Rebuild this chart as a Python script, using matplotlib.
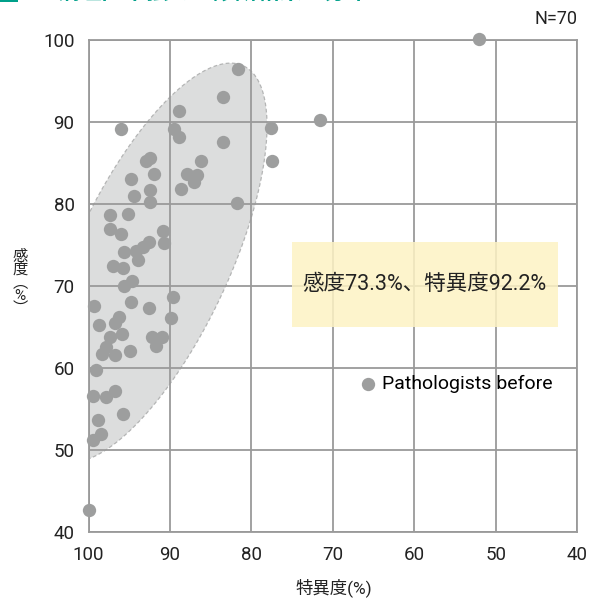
import numpy as np
import matplotlib.pyplot as plt
from matplotlib.patches import Polygon, Rectangle

plt.rcParams['font.family'] = ['Roboto', 'Noto Sans CJK JP', 'DejaVu Sans']

# 特異度 / 感度 (%) per pathologist
specificity = [81.6, 83.5, 88.9, 96.0, 89.5, 88.9, 83.5, 77.6, 77.5, 86.2,
               87.9, 86.7, 87.1, 88.6, 92.5, 92.9, 92.0, 94.8, 92.5, 94.4,
               92.5, 81.7, 97.4, 95.2, 97.4, 96.0, 90.9, 90.7, 92.6, 95.7,
               94.2, 93.3, 93.9, 97.0, 95.8, 94.7, 95.6, 89.6, 99.3, 94.8,
               92.6, 89.9, 96.2, 96.8, 98.7, 95.9, 97.4, 92.2, 91.0, 91.7,
               97.8, 98.3, 96.7, 94.9, 99.1, 96.7, 99.5, 97.9, 95.8, 98.8,
               98.5, 99.4, 100.0, 71.6, 52.1]
sensitivity = [96.5, 93.0, 91.3, 89.1, 89.1, 88.2, 87.6, 89.3, 85.2, 85.3,
               83.7, 83.5, 82.7, 81.8, 85.6, 85.2, 83.7, 83.0, 81.7, 81.0,
               80.2, 80.1, 78.7, 78.8, 77.0, 76.4, 76.7, 75.3, 75.4, 74.2,
               74.3, 74.8, 73.2, 72.4, 72.2, 70.6, 70.0, 68.7, 67.6, 68.1,
               67.3, 66.1, 66.2, 65.5, 65.2, 64.1, 63.8, 63.8, 63.8, 62.7,
               62.6, 61.7, 61.6, 62.1, 59.8, 57.2, 56.6, 56.5, 54.4, 53.6,
               51.9, 51.2, 42.7, 90.2, 100.1]

x_ticks = [100, 90, 80, 70, 60, 50, 40]
y_ticks = [40, 50, 60, 70, 80, 90, 100]

# shaded ellipse around the main cluster (centre, half-width, half-height, shear)
ell_cx, ell_cy = 92.31, 72.84
ell_w, ell_h = 10.36, 24.34
ell_shear = -0.401

fig = plt.figure(figsize=(5.9, 6.01), dpi=100)
ax = fig.add_axes([0.150, 0.1148, 0.828, 0.8186])

t = np.linspace(0, 2 * np.pi, 400)
ey = ell_cy + ell_h * np.sin(t)
ex = ell_cx + ell_shear * (ey - ell_cy) + ell_w * np.cos(t)
ax.add_patch(Polygon(np.column_stack([ex, ey]), closed=True, facecolor='#dcdddd',
                     edgecolor='#b4b5b5', linestyle=(0, (3, 2)), linewidth=0.9, zorder=0.3))

ax.scatter(specificity, sensitivity, s=92, color='#9d9e9e', linewidths=0,
           zorder=3, clip_on=False, label='Pathologists before')

ax.set_xlim(100, 40)
ax.set_ylim(40, 100)
ax.set_xticks(x_ticks)
ax.set_yticks(y_ticks)
ax.tick_params(length=0, labelsize=13.5, colors='#222222', pad=10)
ax.tick_params(axis='y', pad=10)
ax.set_axisbelow(True)
ax.grid(True, color='#9a9a9a', linewidth=1.3)
for s in ax.spines.values():
    s.set_color('#9a9a9a')
    s.set_linewidth(1.3)

# summary box
ax.add_patch(Rectangle((75.0, 65.0), -32.7, 10.4, facecolor='#fdf3c4', alpha=0.85,
                       edgecolor='none', zorder=4))
ax.text(58.7, 70.2, '感度73.3%、特異度92.2%', fontsize=15.5, color='#222222',
        ha='center', va='center', zorder=5)

ax.legend(loc='center left', bbox_to_anchor=(0.552, 0.301), frameon=False,
          fontsize=14, handlelength=1.0, handletextpad=0.22, markerscale=1.0,
          borderaxespad=0, borderpad=0)

ax.text(1.0, 1.025, 'N=70', transform=ax.transAxes, ha='right', va='bottom',
        fontsize=13, color='#222222')
fig.text(0.565, 0.006, '特異度(%)', ha='center', va='bottom', fontsize=12.5,
         color='#222222')
fig.text(0.034, 0.53, '感\n度\n︵\n%\n︶', ha='center', va='center', fontsize=11,
         linespacing=0.9, color='#222222')

# header (cut off at top of image)
fig.patches.append(Rectangle((0, 0.996), 0.03, 0.01, transform=fig.transFigure,
                             facecolor='#00a08a', edgecolor='none'))
fig.text(0.098, 1.012, '病理医単独での診断結果の分布', ha='left', va='center',
         fontsize=16, fontweight='bold', color='#00a08a')

fig.savefig('out.png', dpi=100)
